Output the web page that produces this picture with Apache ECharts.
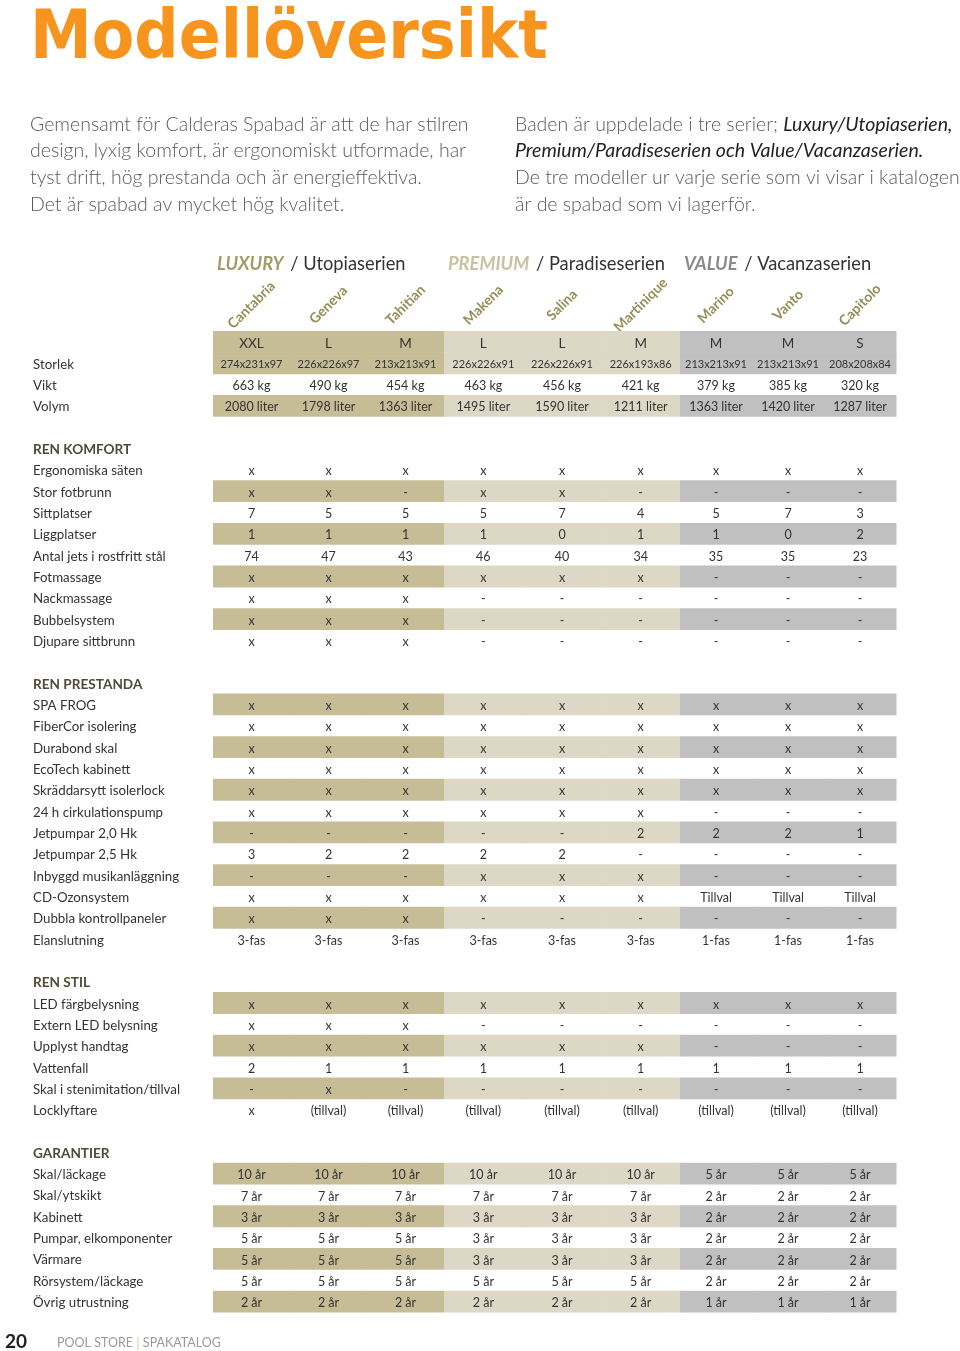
<!DOCTYPE html>
<html>
<head>
<meta charset="utf-8">
<script src="https://cdn.jsdelivr.net/npm/echarts@6/dist/echarts.min.js"></script>
<style>
html,body{margin:0;padding:0;background:#fff;}
#chart{width:960px;height:1351px;}
</style>
</head>
<body>
<div id="chart"></div>
<script>
// ---------- DATA ----------
const models = ['Cantabria','Geneva','Tahitian','Makena','Salina','Martinique','Marino','Vanto','Capitolo'];
const modelGroup = [0,0,0,1,1,1,2,2,2];
const groupCodes = ['LUXURY','PREMIUM','VALUE'];
const groupNames = ['Utopiaserien','Paradiseserien','Vacanzaserien'];

const sizeClass = ['XXL','L','M','L','L','M','M','M','S'];
const dimensions = ['274x231x97','226x226x97','213x213x91','226x226x91','226x226x91','226x193x86','213x213x91','213x213x91','208x208x84'];
const weightKg = [663,490,454,463,456,421,379,385,320];
const volumeLiter = [2080,1798,1363,1495,1590,1211,1363,1420,1287];

const komfortLabels = ['Ergonomiska säten','Stor fotbrunn','Sittplatser','Liggplatser','Antal jets i rostfritt stål','Fotmassage','Nackmassage','Bubbelsystem','Djupare sittbrunn'];
const komfortValues = [
  ['x','x','x','x','x','x','x','x','x'],
  ['x','x','-','x','x','-','-','-','-'],
  ['7','5','5','5','7','4','5','7','3'],
  ['1','1','1','1','0','1','1','0','2'],
  ['74','47','43','46','40','34','35','35','23'],
  ['x','x','x','x','x','x','-','-','-'],
  ['x','x','x','-','-','-','-','-','-'],
  ['x','x','x','-','-','-','-','-','-'],
  ['x','x','x','-','-','-','-','-','-']
];

const prestandaLabels = ['SPA FROG','FiberCor isolering','Durabond skal','EcoTech kabinett','Skräddarsytt isolerlock','24 h cirkulationspump','Jetpumpar 2,0 Hk','Jetpumpar 2,5 Hk','Inbyggd musikanläggning','CD-Ozonsystem','Dubbla kontrollpaneler','Elanslutning'];
const prestandaValues = [
  ['x','x','x','x','x','x','x','x','x'],
  ['x','x','x','x','x','x','x','x','x'],
  ['x','x','x','x','x','x','x','x','x'],
  ['x','x','x','x','x','x','x','x','x'],
  ['x','x','x','x','x','x','x','x','x'],
  ['x','x','x','x','x','x','-','-','-'],
  ['-','-','-','-','-','2','2','2','1'],
  ['3','2','2','2','2','-','-','-','-'],
  ['-','-','-','x','x','x','-','-','-'],
  ['x','x','x','x','x','x','Tillval','Tillval','Tillval'],
  ['x','x','x','-','-','-','-','-','-'],
  ['3-fas','3-fas','3-fas','3-fas','3-fas','3-fas','1-fas','1-fas','1-fas']
];

const stilLabels = ['LED färgbelysning','Extern LED belysning','Upplyst handtag','Vattenfall','Skal i stenimitation/tillval','Locklyftare'];
const stilValues = [
  ['x','x','x','x','x','x','x','x','x'],
  ['x','x','x','-','-','-','-','-','-'],
  ['x','x','x','x','x','x','-','-','-'],
  ['2','1','1','1','1','1','1','1','1'],
  ['-','x','-','-','-','-','-','-','-'],
  ['x','(tillval)','(tillval)','(tillval)','(tillval)','(tillval)','(tillval)','(tillval)','(tillval)']
];

const garantiLabels = ['Skal/läckage','Skal/ytskikt','Kabinett','Pumpar, elkomponenter','Värmare','Rörsystem/läckage','Övrig utrustning'];
const garantiYears = [
  [10,10,10,10,10,10,5,5,5],
  [7,7,7,7,7,7,2,2,2],
  [3,3,3,3,3,3,2,2,2],
  [5,5,5,3,3,3,2,2,2],
  [5,5,5,3,3,3,2,2,2],
  [5,5,5,5,5,5,2,2,2],
  [2,2,2,2,2,2,1,1,1]
];

const sectionTitles = ['REN KOMFORT','REN PRESTANDA','REN STIL','GARANTIER'];

// ---------- BUILD ROWS ----------
const rows = [];
rows.push({label:'', values:sizeClass, shaded:true, size:13.5});
rows.push({label:'Storlek', values:dimensions, shaded:true, size:11});
rows.push({label:'Vikt', values:weightKg.map(v=>v+' kg'), shaded:false});
rows.push({label:'Volym', values:volumeLiter.map(v=>v+' liter'), shaded:true});

function addSection(title, labels, values, shadeOdd){
  rows.push({label:'', values:null});
  rows.push({label:title, header:true, values:null});
  labels.forEach((l,i)=>rows.push({label:l, values:values[i], shaded: shadeOdd ? (i%2===1) : (i%2===0)}));
}
addSection(sectionTitles[0], komfortLabels, komfortValues, true);
addSection(sectionTitles[1], prestandaLabels, prestandaValues, false);
addSection(sectionTitles[2], stilLabels, stilValues, false);
addSection(sectionTitles[3], garantiLabels, garantiYears.map(r=>r.map(v=>v+' år')), false);

const yCats = rows.map(r=>r.label);
// one cell list per model series group (each group gets its own grid/axes)
const groupCells = [[],[],[]];
const groupData = [[],[],[]];
rows.forEach((r,ri)=>{
  if(!r.values) return;
  r.values.forEach((v,ci)=>{
    const g = modelGroup[ci];
    groupCells[g].push({text:String(v), shaded:r.shaded, size:r.size||12.5});
    groupData[g].push([ci - g*3, ri]);
  });
});

const shadeColors = ['#c6bd97','#ddd8c6','#c0c0c0'];
const FONT = '"Lato", "Open Sans", sans-serif';
const gridLeft = [213, 444, 680];
const gridWidth = [231, 236, 216];

const grids = [0,1,2].map(g=>({left:gridLeft[g], top:331, width:gridWidth[g], height:981, containLabel:false}));
const xAxes = [0,1,2].map(g=>({
  type:'category', gridIndex:g, position:'top', data:models.filter((m,i)=>modelGroup[i]===g),
  axisLine:{show:false}, axisTick:{show:false}, splitLine:{show:false},
  axisLabel:{interval:0, rotate:-45, margin:26, align:'center', verticalAlign:'middle',
    color:'#968e58', fontWeight:700, fontSize:14, fontFamily:FONT}
}));
const yAxes = [0,1,2].map(g=>({
  type:'category', gridIndex:g, inverse:true, data:yCats,
  axisLine:{show:false}, axisTick:{show:false}, splitLine:{show:false},
  axisLabel:{show:g===0, interval:0, align:'left', margin:180, color:'#333', fontSize:13.3, fontFamily:FONT,
    padding:[3,0,0,0],
    formatter:(v,i)=> rows[i] && rows[i].header ? '{h|'+v+'}' : v,
    rich:{h:{fontWeight:'bold', color:'#4e4b36', fontSize:13.6, fontFamily:FONT}}
  }
}));
const seriesList = [0,1,2].map(g=>({
  type:'custom', xAxisIndex:g, yAxisIndex:g,
  data:groupData[g],
  encode:{x:0, y:1},
  renderItem:(params, api)=>{
    const c = api.value(0), r = api.value(1);
    const p = api.coord([c, r]);
    const s = api.size([1,1]);
    const cell = groupCells[g][params.dataIndex];
    const children = [];
    if(cell.shaded){
      children.push({type:'rect', shape:{x:p[0]-s[0]/2, y:p[1]-s[1]/2, width:s[0]+0.5, height:s[1]+0.5},
        style:{fill:shadeColors[g]}});
    }
    children.push({type:'text', x:p[0], y:p[1]+1.8, style:{text:cell.text, align:'center', verticalAlign:'middle',
      fill:'#333333', fontSize:cell.size, fontFamily:FONT}});
    return {type:'group', children};
  }
}));

const chart = echarts.init(document.getElementById('chart'), null, {renderer:'canvas'});
chart.setOption({
  animation:false,
  backgroundColor:'#ffffff',
  textStyle:{fontFamily:FONT},
  grid:grids,
  xAxis:xAxes,
  yAxis:yAxes,
  series:seriesList,
  graphic:[
    {type:'text', x:30, y:40, scaleY:1.09, style:{text:'Modellöversikt', fill:'#f7941d', fontSize:62, fontWeight:'bold', fontFamily:'"DejaVu Sans", sans-serif', verticalAlign:'middle'}},
    {type:'text', x:30, y:111, style:{text:'Gemensamt för Calderas Spabad är att de har stilren\ndesign, lyxig komfort, är ergonomiskt utformade, har\ntyst drift, hög prestanda och är energieffektiva.\nDet är spabad av mycket hög kvalitet.',
      fill:'#5a5a5a', fontSize:19.5, fontWeight:300, fontFamily:FONT, lineHeight:26.7, verticalAlign:'top'}},
    {type:'text', x:515, y:111, style:{
      text:'Baden är uppdelade i tre serier; {i|Luxury/Utopiaserien,}\n{i|Premium/Paradiseserien och Value/Vacanzaserien.}\nDe tre modeller ur varje serie som vi visar i katalogen\när de spabad som vi lagerför.',
      fill:'#5a5a5a', fontSize:19.5, fontWeight:300, fontFamily:FONT, lineHeight:26.7, verticalAlign:'top',
      rich:{i:{fontStyle:'italic', fill:'#222', fontSize:19.5, fontWeight:400, fontFamily:FONT, lineHeight:26.7}}}},
    ...[217,448,684].map((x,g)=>({type:'text', x:x, y:264, style:{
      text:'{a|'+groupCodes[g]+'}  {b|/ '+groupNames[g]+'}', verticalAlign:'middle',
      rich:{a:{fontStyle:'italic', fontWeight:'bold', fontSize:18.3, fontFamily:FONT, fill:['#a39b68','#c9c1a0','#8a8a8a'][g]},
            b:{fontSize:18.3, fontFamily:FONT, fill:'#333'}}}})),
    {type:'text', x:5, y:1342, style:{text:'20', fill:'#222', fontSize:19, fontWeight:'bold', fontFamily:FONT, verticalAlign:'middle'}},
    {type:'text', x:57, y:1343, style:{text:'POOL STORE {s||} SPAKATALOG', fill:'#9a9a9a', fontSize:12.5, fontFamily:FONT, verticalAlign:'middle',
      rich:{s:{fill:'#e8c79a', fontSize:14, fontFamily:FONT}}}}
  ]
});
</script>
</body>
</html>
